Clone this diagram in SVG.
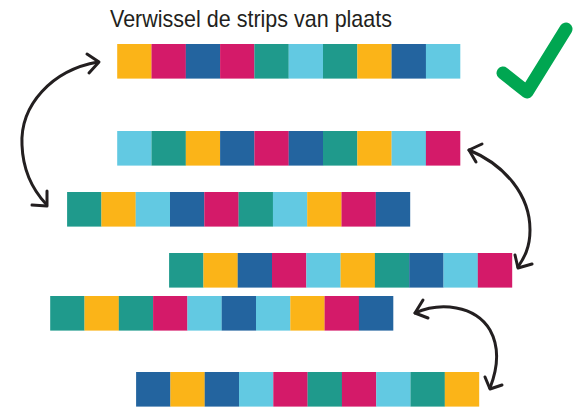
<svg xmlns="http://www.w3.org/2000/svg" width="587" height="411" viewBox="0 0 587 411">
<style>
.y{fill:#FBB418}.m{fill:#D41A69}.b{fill:#23649F}.t{fill:#1F9A8C}.l{fill:#62C9E2}
.arc{fill:none;stroke:#231F20;stroke-width:3;stroke-linecap:round;stroke-linejoin:round}
.title{font-family:"Liberation Sans",Arial,sans-serif;font-size:24px;fill:#231F20}
</style>
<defs>
<rect id="s" width="34.4" height="34.6"/>
</defs>
<rect width="587" height="411" fill="#fff"/>
<text class="title" x="110" y="27" textLength="282" lengthAdjust="spacingAndGlyphs">Verwissel de strips van plaats</text>
<g id="strip1" transform="translate(117.2,44)">
<use href="#s" x="0" class="y"/><use href="#s" x="34.3" class="m"/><use href="#s" x="68.6" class="b"/><use href="#s" x="102.9" class="m"/><use href="#s" x="137.2" class="t"/><use href="#s" x="171.5" class="l"/><use href="#s" x="205.8" class="t"/><use href="#s" x="240.1" class="y"/><use href="#s" x="274.4" class="b"/><use href="#s" x="308.7" class="l"/>
</g>
<g id="strip2" transform="translate(117.2,131)">
<use href="#s" x="0" class="l"/><use href="#s" x="34.3" class="t"/><use href="#s" x="68.6" class="y"/><use href="#s" x="102.9" class="b"/><use href="#s" x="137.2" class="m"/><use href="#s" x="171.5" class="b"/><use href="#s" x="205.8" class="t"/><use href="#s" x="240.1" class="y"/><use href="#s" x="274.4" class="l"/><use href="#s" x="308.7" class="m"/>
</g>
<g id="strip3" transform="translate(67.1,192)">
<use href="#s" x="0" class="t"/><use href="#s" x="34.3" class="y"/><use href="#s" x="68.6" class="l"/><use href="#s" x="102.9" class="b"/><use href="#s" x="137.2" class="m"/><use href="#s" x="171.5" class="t"/><use href="#s" x="205.8" class="l"/><use href="#s" x="240.1" class="y"/><use href="#s" x="274.4" class="m"/><use href="#s" x="308.7" class="b"/>
</g>
<g id="strip4" transform="translate(169.1,253)">
<use href="#s" x="0" class="t"/><use href="#s" x="34.3" class="y"/><use href="#s" x="68.6" class="b"/><use href="#s" x="102.9" class="m"/><use href="#s" x="137.2" class="l"/><use href="#s" x="171.5" class="y"/><use href="#s" x="205.8" class="t"/><use href="#s" x="240.1" class="b"/><use href="#s" x="274.4" class="l"/><use href="#s" x="308.7" class="m"/>
</g>
<g id="strip5" transform="translate(50.2,296)">
<use href="#s" x="0" class="t"/><use href="#s" x="34.3" class="y"/><use href="#s" x="68.6" class="t"/><use href="#s" x="102.9" class="m"/><use href="#s" x="137.2" class="l"/><use href="#s" x="171.5" class="b"/><use href="#s" x="205.8" class="l"/><use href="#s" x="240.1" class="y"/><use href="#s" x="274.4" class="m"/><use href="#s" x="308.7" class="b"/>
</g>
<g id="strip6" transform="translate(136.1,372)">
<use href="#s" x="0" class="b"/><use href="#s" x="34.3" class="y"/><use href="#s" x="68.6" class="b"/><use href="#s" x="102.9" class="l"/><use href="#s" x="137.2" class="m"/><use href="#s" x="171.5" class="t"/><use href="#s" x="205.8" class="m"/><use href="#s" x="240.1" class="l"/><use href="#s" x="274.4" class="t"/><use href="#s" x="308.7" class="y"/>
</g>
<g id="check">
<polyline points="503,73 527,92 566,29" fill="none" stroke="#00A651" stroke-width="13" stroke-linecap="round" stroke-linejoin="round"/>
</g>
<g id="connectors">
<path class="arc" d="M98 62 C52 70 20 105 22 145 C23 172 33 190 46 204"/>
<polyline class="arc" points="87,54 99,62 89,73"/>
<polyline class="arc" points="47,191 47,206 32,205"/>
<path class="arc" d="M469 150 C505 165 530 195 530 230 C530 248 524 258 518 267"/>
<polyline class="arc" points="482,144 469,150 476,162"/>
<polyline class="arc" points="515,255 518,268 532,264"/>
<path class="arc" d="M415 313 C440 302 475 305 490 330 C500 348 497 370 490 388"/>
<polyline class="arc" points="423,300 415,313 428,318"/>
<polyline class="arc" points="485,377 490,389 502,385"/>
</g>
</svg>
